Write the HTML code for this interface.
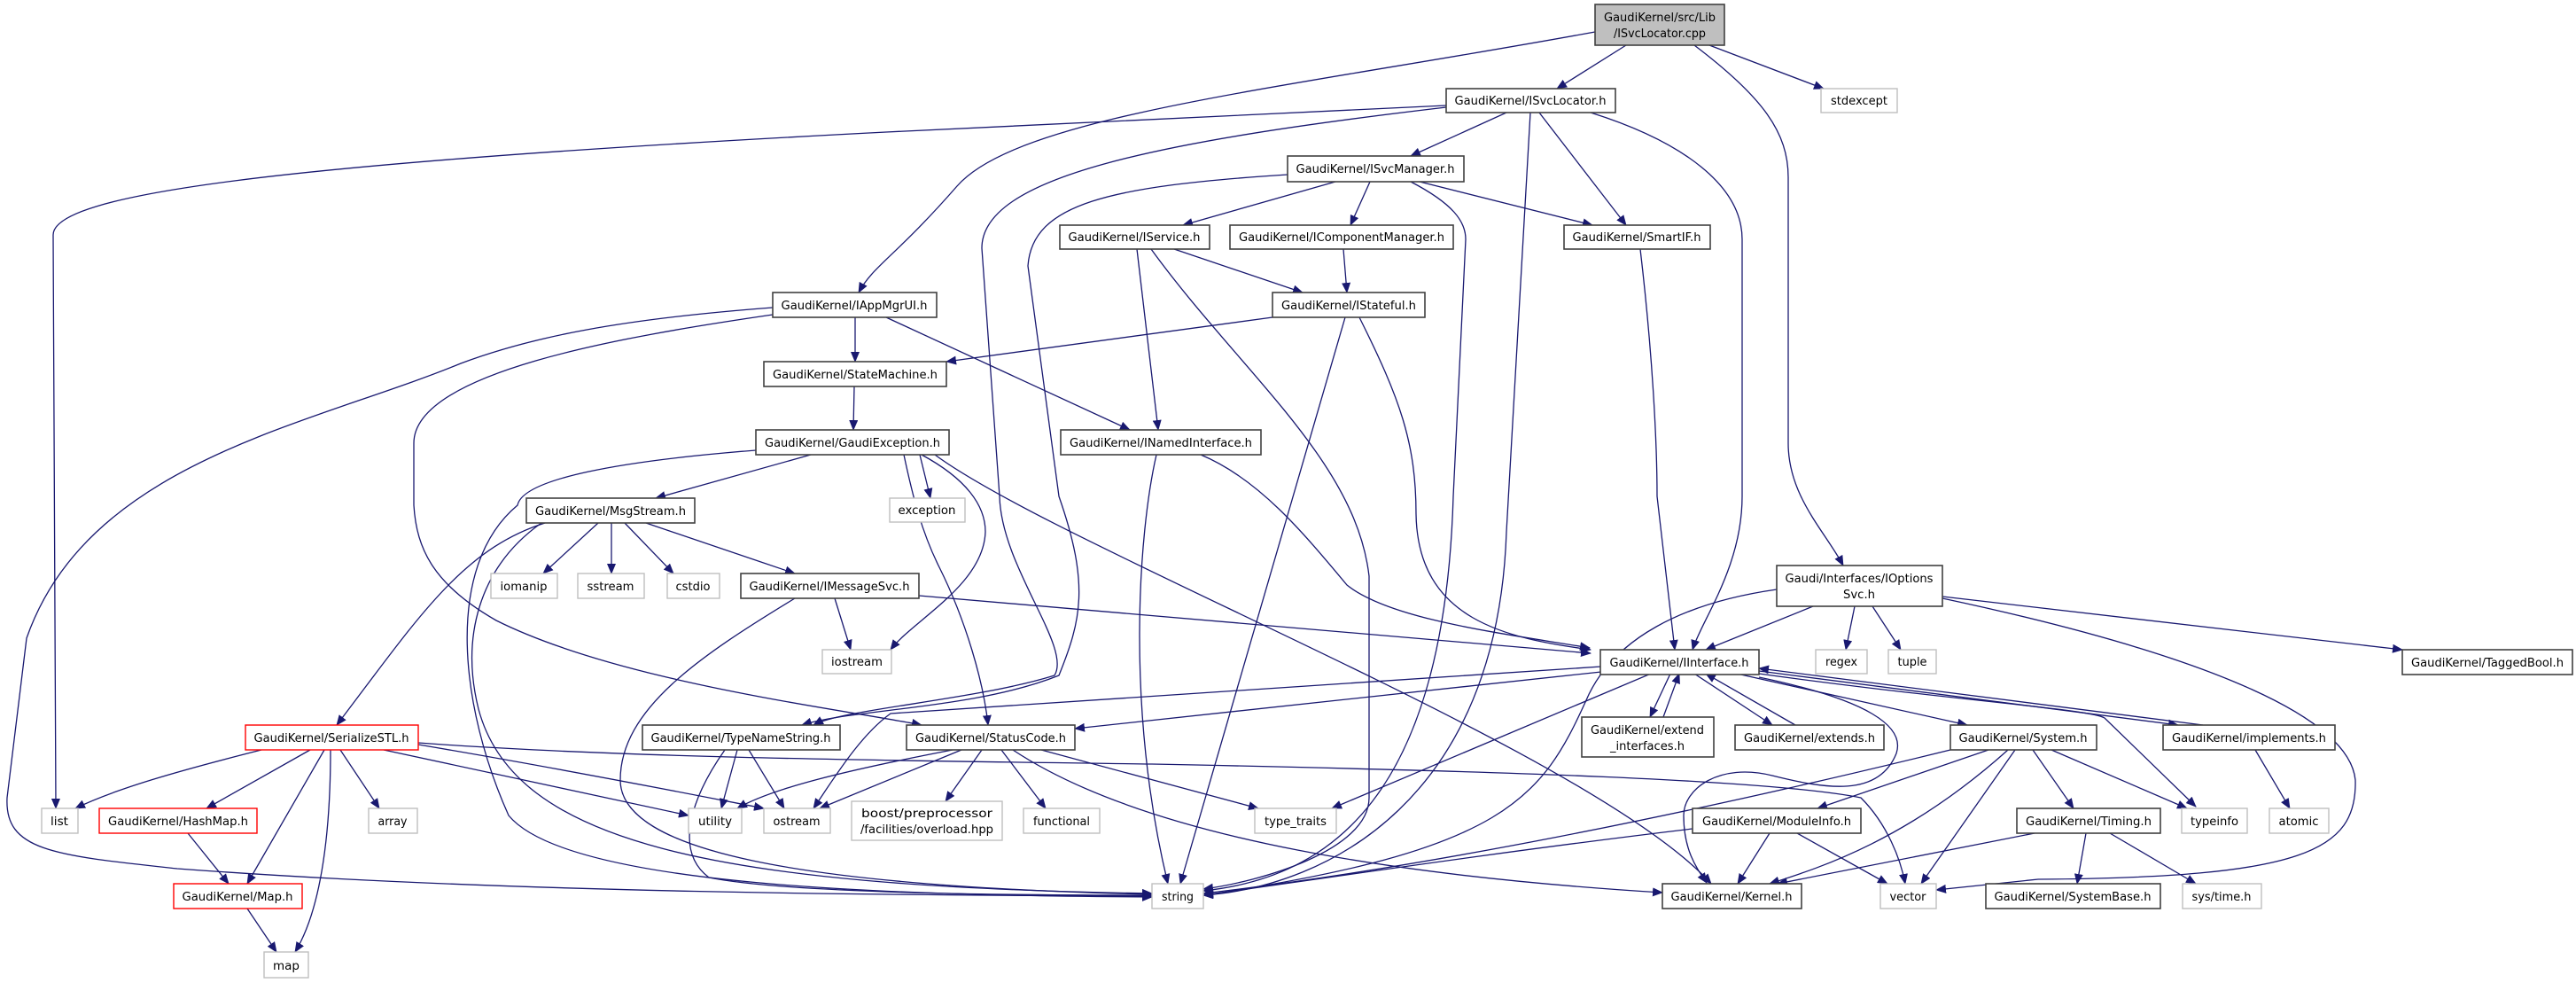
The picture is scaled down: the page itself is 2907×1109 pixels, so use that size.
<!DOCTYPE html>
<html><head><meta charset="utf-8"><style>
html,body{margin:0;padding:0;background:#fff;}
svg{display:block;}
text{font-family:"DejaVu Sans","Liberation Sans",sans-serif;font-size:13px;fill:#000;}
.e{fill:none;stroke:#191970;stroke-width:1.3;}
.n{fill:#fff;stroke:#404040;stroke-width:1.6;}
.g{fill:#fff;stroke:#bfbfbf;stroke-width:1.4;}
.r{fill:#fff;stroke:#ff0000;stroke-width:1.4;}
</style></head><body>
<svg width="2907" height="1109" viewBox="0 0 2907 1109" xmlns="http://www.w3.org/2000/svg">
<defs><marker id="a" markerWidth="12" markerHeight="10" refX="11" refY="5" orient="auto" markerUnits="userSpaceOnUse"><path d="M0,0 L12,5 L0,10 z" fill="#191970"/></marker></defs>
<g class="e" marker-end="url(#a)">
<path d="M1835,51 L1757,100"/>
<path d="M1800,36 C1450,100 1150,130 1080,210 S985,300 969,330"/>
<path d="M1632,119 L1000,149 C300,185 60,220 60,265 L63,912"/>
<path d="M1929,51 L2058,100"/>
<path d="M1912,51 C1990,110 2018,150 2018,200 L2018,500 C2018,560 2060,600 2080,638"/>
<path d="M1700,127 L1592,176"/>
<path d="M1737,127 L1835,254"/>
<path d="M1727,127 L1700,600 C1690,900 1500,1000 1358,1010"/>
<path d="M1795,127 C1900,160 1966,210 1966,270 L1966,560 C1966,640 1920,700 1910,733"/>
<path d="M1632,121 C1300,160 1108,200 1108,280 L1128,560 C1130,640 1210,730 1190,762 C1100,790 950,800 918,818"/>
<path d="M1507,205 L1335,254"/>
<path d="M1546,205 L1524,254"/>
<path d="M1602,205 L1797,254"/>
<path d="M1592,205 C1640,230 1654,250 1654,270 L1640,560 C1630,900 1500,990 1358,1005"/>
<path d="M1453,197 C1250,210 1165,230 1160,300 L1195,560 C1230,660 1220,700 1195,762 C1100,800 960,800 905,818"/>
<path d="M1325,281 L1470,330"/>
<path d="M1283,281 L1307,485"/>
<path d="M1299,281 C1400,420 1530,520 1545,650 L1545,900 C1545,960 1420,995 1358,1003"/>
<path d="M1516,281 L1520,330"/>
<path d="M1851,281 C1865,400 1870,500 1870,560 L1890,733"/>
<path d="M1436,358 L1068,408"/>
<path d="M1518,358 L1332,997"/>
<path d="M1534,358 C1580,450 1598,500 1598,580 C1600,700 1700,720 1795,733"/>
<path d="M965,358 L965,408"/>
<path d="M1000,358 L1275,485"/>
<path d="M872,347 C700,360 600,380 520,410 C350,480 100,520 30,720 L8,900 C5,960 60,965 200,980 C600,1010 1100,1010 1300,1011"/>
<path d="M872,355 C700,380 467,420 467,500 L467,570 C470,620 490,660 560,700 C700,770 950,800 1040,818"/>
<path d="M964,436 L963,485"/>
<path d="M915,513 L740,562"/>
<path d="M853,508 C700,520 590,540 584,570 C500,640 520,800 574,920 C640,1000 1000,1010 1300,1012"/>
<path d="M1038,513 L1050,562"/>
<path d="M1040,513 C1090,540 1112,570 1112,600 C1110,660 1030,700 1005,733"/>
<path d="M1020,513 C1030,560 1040,600 1060,640 C1090,700 1110,770 1115,818"/>
<path d="M1055,513 C1200,620 1800,850 1931,997"/>
<path d="M1305,513 C1285,600 1270,800 1318,997"/>
<path d="M1355,513 C1420,540 1470,600 1520,660 C1570,700 1700,715 1794,731"/>
<path d="M675,590 L613,647"/>
<path d="M690,590 L690,647"/>
<path d="M705,590 L760,647"/>
<path d="M729,590 L897,647"/>
<path d="M615,590 C520,620 470,700 380,818"/>
<path d="M611,590 C540,640 520,720 540,800 C580,950 800,1000 1300,1008"/>
<path d="M942,675 L960,733"/>
<path d="M897,675 C790,740 700,800 700,880 C700,960 900,1000 1300,1009"/>
<path d="M1037,672 L1795,737"/>
<path d="M1807,752 C1400,780 1050,800 1005,805 C970,830 940,880 918,912"/>
<path d="M1807,758 L1213,822"/>
<path d="M1863,760 L1503,912"/>
<path d="M1885,760 L1862,809"/>
<path d="M1877,809 L1895,760"/>
<path d="M1912,760 L2000,818"/>
<path d="M2026,818 L1925,760"/>
<path d="M1960,760 L2220,818"/>
<path d="M1985,757 L2458,818"/>
<path d="M2486,818 L1985,754"/>
<path d="M1985,760 C2200,790 2360,800 2375,810 L2478,910"/>
<path d="M1985,764 C2110,790 2150,820 2140,850 C2120,900 2060,890 2000,875 C1940,860 1900,890 1900,920 C1900,960 1915,980 1926,996"/>
<path d="M2046,684 L1925,733"/>
<path d="M2093,684 L2083,733"/>
<path d="M2113,684 L2145,733"/>
<path d="M2192,673 L2711,733"/>
<path d="M2192,675 C2450,730 2650,800 2658,880 C2660,960 2600,990 2300,992 L2185,1004"/>
<path d="M2005,665 C1900,680 1820,720 1790,790 C1740,900 1700,960 1358,1010"/>
<path d="M1075,846 C950,870 870,890 832,912"/>
<path d="M1085,846 L925,912"/>
<path d="M1108,846 L1067,904"/>
<path d="M1130,846 L1180,912"/>
<path d="M1175,846 L1420,912"/>
<path d="M1143,846 C1300,950 1600,990 1876,1007"/>
<path d="M832,846 L814,912"/>
<path d="M845,846 L885,912"/>
<path d="M818,846 C780,900 760,960 800,990 C900,1010 1200,1010 1300,1010"/>
<path d="M295,846 C200,870 130,890 85,912"/>
<path d="M350,846 L233,912"/>
<path d="M366,846 L279,997"/>
<path d="M373,846 C373,950 360,1030 333,1074"/>
<path d="M384,846 L428,912"/>
<path d="M433,846 L777,920"/>
<path d="M472,840 C650,870 800,900 862,912"/>
<path d="M472,838 C700,855 1000,858 1300,862 C1700,870 2000,880 2100,900 C2130,930 2145,970 2150,997"/>
<path d="M212,940 L258,997"/>
<path d="M279,1025 L312,1074"/>
<path d="M2201,846 C1900,920 1600,980 1358,1008"/>
<path d="M2244,846 L2051,912"/>
<path d="M2266,846 C2150,950 2050,980 1997,997"/>
<path d="M2274,846 L2168,997"/>
<path d="M2294,846 L2340,912"/>
<path d="M2315,846 L2468,912"/>
<path d="M1910,935 C1700,960 1500,990 1358,1010"/>
<path d="M1997,940 L1961,997"/>
<path d="M2028,940 L2130,997"/>
<path d="M2296,940 L2006,997"/>
<path d="M2354,940 L2344,997"/>
<path d="M2381,940 L2478,997"/>
<path d="M2545,846 L2584,912"/>
</g>
<g>
<rect x="1800" y="5" width="146" height="46" fill="#bfbfbf" stroke="#404040" stroke-width="1.6"/>
<text x="1873" y="24" text-anchor="middle" textLength="126" lengthAdjust="spacingAndGlyphs">GaudiKernel/src/Lib</text>
<text x="1873" y="42" text-anchor="middle" textLength="104" lengthAdjust="spacingAndGlyphs">/ISvcLocator.cpp</text>

<rect class="n" x="1632" y="100" width="191" height="27"/><text x="1727" y="118" text-anchor="middle" textLength="171" lengthAdjust="spacingAndGlyphs">GaudiKernel/ISvcLocator.h</text>
<rect class="g" x="2055" y="100" width="86" height="27"/><text x="2098" y="118" text-anchor="middle" textLength="64" lengthAdjust="spacingAndGlyphs">stdexcept</text>
<rect class="n" x="1453" y="176" width="199" height="29"/><text x="1552" y="195" text-anchor="middle" textLength="179" lengthAdjust="spacingAndGlyphs">GaudiKernel/ISvcManager.h</text>
<rect class="n" x="1196" y="254" width="169" height="27"/><text x="1280" y="272" text-anchor="middle" textLength="149" lengthAdjust="spacingAndGlyphs">GaudiKernel/IService.h</text>
<rect class="n" x="1388" y="254" width="252" height="27"/><text x="1514" y="272" text-anchor="middle" textLength="232" lengthAdjust="spacingAndGlyphs">GaudiKernel/IComponentManager.h</text>
<rect class="n" x="1765" y="254" width="165" height="27"/><text x="1847" y="272" text-anchor="middle" textLength="145" lengthAdjust="spacingAndGlyphs">GaudiKernel/SmartIF.h</text>
<rect class="n" x="1436" y="330" width="172" height="28"/><text x="1522" y="349" text-anchor="middle" textLength="152" lengthAdjust="spacingAndGlyphs">GaudiKernel/IStateful.h</text>
<rect class="n" x="872" y="330" width="185" height="28"/><text x="964" y="349" text-anchor="middle" textLength="165" lengthAdjust="spacingAndGlyphs">GaudiKernel/IAppMgrUI.h</text>
<rect class="n" x="862" y="408" width="206" height="28"/><text x="965" y="427" text-anchor="middle" textLength="186" lengthAdjust="spacingAndGlyphs">GaudiKernel/StateMachine.h</text>
<rect class="n" x="853" y="485" width="218" height="28"/><text x="962" y="504" text-anchor="middle" textLength="198" lengthAdjust="spacingAndGlyphs">GaudiKernel/GaudiException.h</text>
<rect class="n" x="1197" y="485" width="226" height="28"/><text x="1310" y="504" text-anchor="middle" textLength="206" lengthAdjust="spacingAndGlyphs">GaudiKernel/INamedInterface.h</text>
<rect class="n" x="594" y="562" width="190" height="28"/><text x="689" y="581" text-anchor="middle" textLength="170" lengthAdjust="spacingAndGlyphs">GaudiKernel/MsgStream.h</text>
<rect class="g" x="1004" y="562" width="85" height="27"/><text x="1046" y="580" text-anchor="middle" textLength="65" lengthAdjust="spacingAndGlyphs">exception</text>
<rect class="g" x="554" y="647" width="75" height="28"/><text x="591" y="666" text-anchor="middle" textLength="53" lengthAdjust="spacingAndGlyphs">iomanip</text>
<rect class="g" x="652" y="647" width="75" height="28"/><text x="689" y="666" text-anchor="middle" textLength="53" lengthAdjust="spacingAndGlyphs">sstream</text>
<rect class="g" x="753" y="647" width="59" height="28"/><text x="782" y="666" text-anchor="middle" textLength="39" lengthAdjust="spacingAndGlyphs">cstdio</text>
<rect class="n" x="836" y="647" width="201" height="28"/><text x="936" y="666" text-anchor="middle" textLength="181" lengthAdjust="spacingAndGlyphs">GaudiKernel/IMessageSvc.h</text>
<rect class="g" x="928" y="733" width="78" height="27"/><text x="967" y="751" text-anchor="middle" textLength="58" lengthAdjust="spacingAndGlyphs">iostream</text>
<rect class="n" x="2005" y="638" width="187" height="46"/>
<text x="2098" y="657" text-anchor="middle" textLength="167" lengthAdjust="spacingAndGlyphs">Gaudi/Interfaces/IOptions</text>
<text x="2098" y="675" text-anchor="middle" textLength="36" lengthAdjust="spacingAndGlyphs">Svc.h</text>
<rect class="n" x="1806" y="733" width="179" height="28"/><text x="1895" y="752" text-anchor="middle" textLength="157" lengthAdjust="spacingAndGlyphs">GaudiKernel/IInterface.h</text>
<rect class="g" x="2049" y="733" width="58" height="27"/><text x="2078" y="751" text-anchor="middle" textLength="36" lengthAdjust="spacingAndGlyphs">regex</text>
<rect class="g" x="2131" y="733" width="54" height="27"/><text x="2158" y="751" text-anchor="middle" textLength="33" lengthAdjust="spacingAndGlyphs">tuple</text>
<rect class="n" x="2711" y="733" width="192" height="28"/><text x="2807" y="752" text-anchor="middle" textLength="172" lengthAdjust="spacingAndGlyphs">GaudiKernel/TaggedBool.h</text>
<rect class="r" x="277" y="818" width="195" height="28"/><text x="374" y="837" text-anchor="middle" textLength="175" lengthAdjust="spacingAndGlyphs">GaudiKernel/SerializeSTL.h</text>
<rect class="n" x="725" y="818" width="223" height="28"/><text x="836" y="837" text-anchor="middle" textLength="203" lengthAdjust="spacingAndGlyphs">GaudiKernel/TypeNameString.h</text>
<rect class="n" x="1023" y="818" width="190" height="28"/><text x="1118" y="837" text-anchor="middle" textLength="170" lengthAdjust="spacingAndGlyphs">GaudiKernel/StatusCode.h</text>
<rect class="n" x="1785" y="809" width="149" height="45"/>
<text x="1859" y="828" text-anchor="middle" textLength="128" lengthAdjust="spacingAndGlyphs">GaudiKernel/extend</text>
<text x="1859" y="846" text-anchor="middle" textLength="84" lengthAdjust="spacingAndGlyphs">_interfaces.h</text>
<rect class="n" x="1958" y="818" width="168" height="28"/><text x="2042" y="837" text-anchor="middle" textLength="148" lengthAdjust="spacingAndGlyphs">GaudiKernel/extends.h</text>
<rect class="n" x="2201" y="818" width="165" height="28"/><text x="2283" y="837" text-anchor="middle" textLength="145" lengthAdjust="spacingAndGlyphs">GaudiKernel/System.h</text>
<rect class="n" x="2441" y="818" width="194" height="28"/><text x="2538" y="837" text-anchor="middle" textLength="174" lengthAdjust="spacingAndGlyphs">GaudiKernel/implements.h</text>
<rect class="g" x="47" y="912" width="41" height="28"/><text x="67" y="931" text-anchor="middle" textLength="20" lengthAdjust="spacingAndGlyphs">list</text>
<rect class="r" x="112" y="912" width="178" height="28"/><text x="201" y="931" text-anchor="middle" textLength="158" lengthAdjust="spacingAndGlyphs">GaudiKernel/HashMap.h</text>
<rect class="g" x="416" y="912" width="55" height="28"/><text x="443" y="931" text-anchor="middle" textLength="33" lengthAdjust="spacingAndGlyphs">array</text>
<rect class="g" x="777" y="912" width="60" height="28"/><text x="807" y="931" text-anchor="middle" textLength="38" lengthAdjust="spacingAndGlyphs">utility</text>
<rect class="g" x="862" y="912" width="75" height="28"/><text x="899" y="931" text-anchor="middle" textLength="53" lengthAdjust="spacingAndGlyphs">ostream</text>
<rect class="g" x="961" y="904" width="170" height="44"/>
<text x="1046" y="922" text-anchor="middle" textLength="148" lengthAdjust="spacingAndGlyphs">boost/preprocessor</text>
<text x="1046" y="940" text-anchor="middle" textLength="150" lengthAdjust="spacingAndGlyphs">/facilities/overload.hpp</text>
<rect class="g" x="1155" y="912" width="86" height="28"/><text x="1198" y="931" text-anchor="middle" textLength="64" lengthAdjust="spacingAndGlyphs">functional</text>
<rect class="g" x="1416" y="912" width="92" height="28"/><text x="1462" y="931" text-anchor="middle" textLength="70" lengthAdjust="spacingAndGlyphs">type_traits</text>
<rect class="n" x="1910" y="912" width="190" height="28"/><text x="2005" y="931" text-anchor="middle" textLength="168" lengthAdjust="spacingAndGlyphs">GaudiKernel/ModuleInfo.h</text>
<rect class="n" x="2276" y="912" width="162" height="28"/><text x="2357" y="931" text-anchor="middle" textLength="142" lengthAdjust="spacingAndGlyphs">GaudiKernel/Timing.h</text>
<rect class="g" x="2462" y="912" width="74" height="28"/><text x="2499" y="931" text-anchor="middle" textLength="54" lengthAdjust="spacingAndGlyphs">typeinfo</text>
<rect class="g" x="2561" y="912" width="67" height="28"/><text x="2594" y="931" text-anchor="middle" textLength="45" lengthAdjust="spacingAndGlyphs">atomic</text>
<rect class="r" x="196" y="997" width="145" height="28"/><text x="268" y="1016" text-anchor="middle" textLength="125" lengthAdjust="spacingAndGlyphs">GaudiKernel/Map.h</text>
<rect class="g" x="1300" y="997" width="58" height="28"/><text x="1329" y="1016" text-anchor="middle" textLength="36" lengthAdjust="spacingAndGlyphs">string</text>
<rect class="n" x="1876" y="997" width="157" height="28"/><text x="1954" y="1016" text-anchor="middle" textLength="137" lengthAdjust="spacingAndGlyphs">GaudiKernel/Kernel.h</text>
<rect class="g" x="2122" y="997" width="63" height="28"/><text x="2153" y="1016" text-anchor="middle" textLength="41" lengthAdjust="spacingAndGlyphs">vector</text>
<rect class="n" x="2241" y="997" width="197" height="28"/><text x="2339" y="1016" text-anchor="middle" textLength="177" lengthAdjust="spacingAndGlyphs">GaudiKernel/SystemBase.h</text>
<rect class="g" x="2463" y="997" width="89" height="28"/><text x="2507" y="1016" text-anchor="middle" textLength="67" lengthAdjust="spacingAndGlyphs">sys/time.h</text>
<rect class="g" x="298" y="1074" width="50" height="29"/><text x="323" y="1094" text-anchor="middle" textLength="30" lengthAdjust="spacingAndGlyphs">map</text>
</g>
</svg>
</body></html>
